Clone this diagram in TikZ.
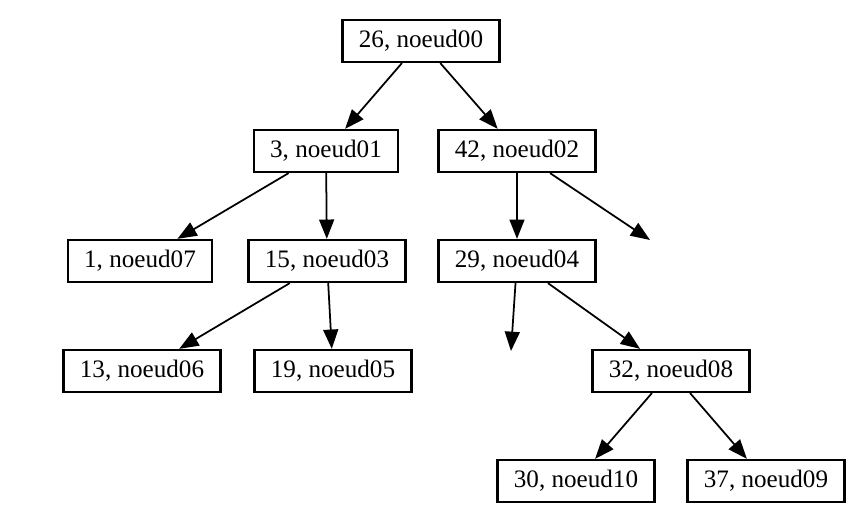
\documentclass[tikz,border=0pt]{standalone}
\usepackage{fontspec}
\setmainfont{Liberation Serif}
\usetikzlibrary{arrows.meta}
\begin{document}
\begin{tikzpicture}[
        x=0.02cm, y=-0.02cm,
        every node/.style={draw, rectangle, line width=1.3pt, minimum height=0.84cm, inner xsep=0.33cm, font=\fontsize{14.3}{17}\selectfont},
        branch/.style={draw, line width=1pt, -{Triangle[length=11pt, width=8.5pt]}},
    ]
    \useasboundingbox[fill=white] (0,0) rectangle (867,524);
    \node[](n00) at (421,41){26, noeud00};
    \node[](n01) at (326,151){3, noeud01};
    \node[](n02) at (517,151){42, noeud02};
    \node[](n07) at (140,261){1, noeud07};
    \node[](n03) at (327,261){15, noeud03};
    \node[](n04) at (517,261){29, noeud04};
    \node[](n06) at (142,371){13, noeud06};
    \node[](n05) at (333,371){19, noeud05};
    \node[](n08) at (671,371){32, noeud08};
    \node[](n10) at (576,481){30, noeud10};
    \node[](n09) at (766,481){37, noeud09};
    \coordinate (e02) at (650,240);
    \coordinate (e04) at (511,351);
    \draw[branch] (n00) -- (n01);
    \draw[branch] (n00) -- (n02);
    \draw[branch] (n01) -- (n07);
    \draw[branch] (n01) -- (n03);
    \draw[branch] (n02) -- (n04);
    \draw[branch] (n02) -- (e02);
    \draw[branch] (n03) -- (n06);
    \draw[branch] (n03) -- (n05);
    \draw[branch] (n04) -- (e04);
    \draw[branch] (n04) -- (n08);
    \draw[branch] (n08) -- (n10);
    \draw[branch] (n08) -- (n09);
\end{tikzpicture}
\end{document}
